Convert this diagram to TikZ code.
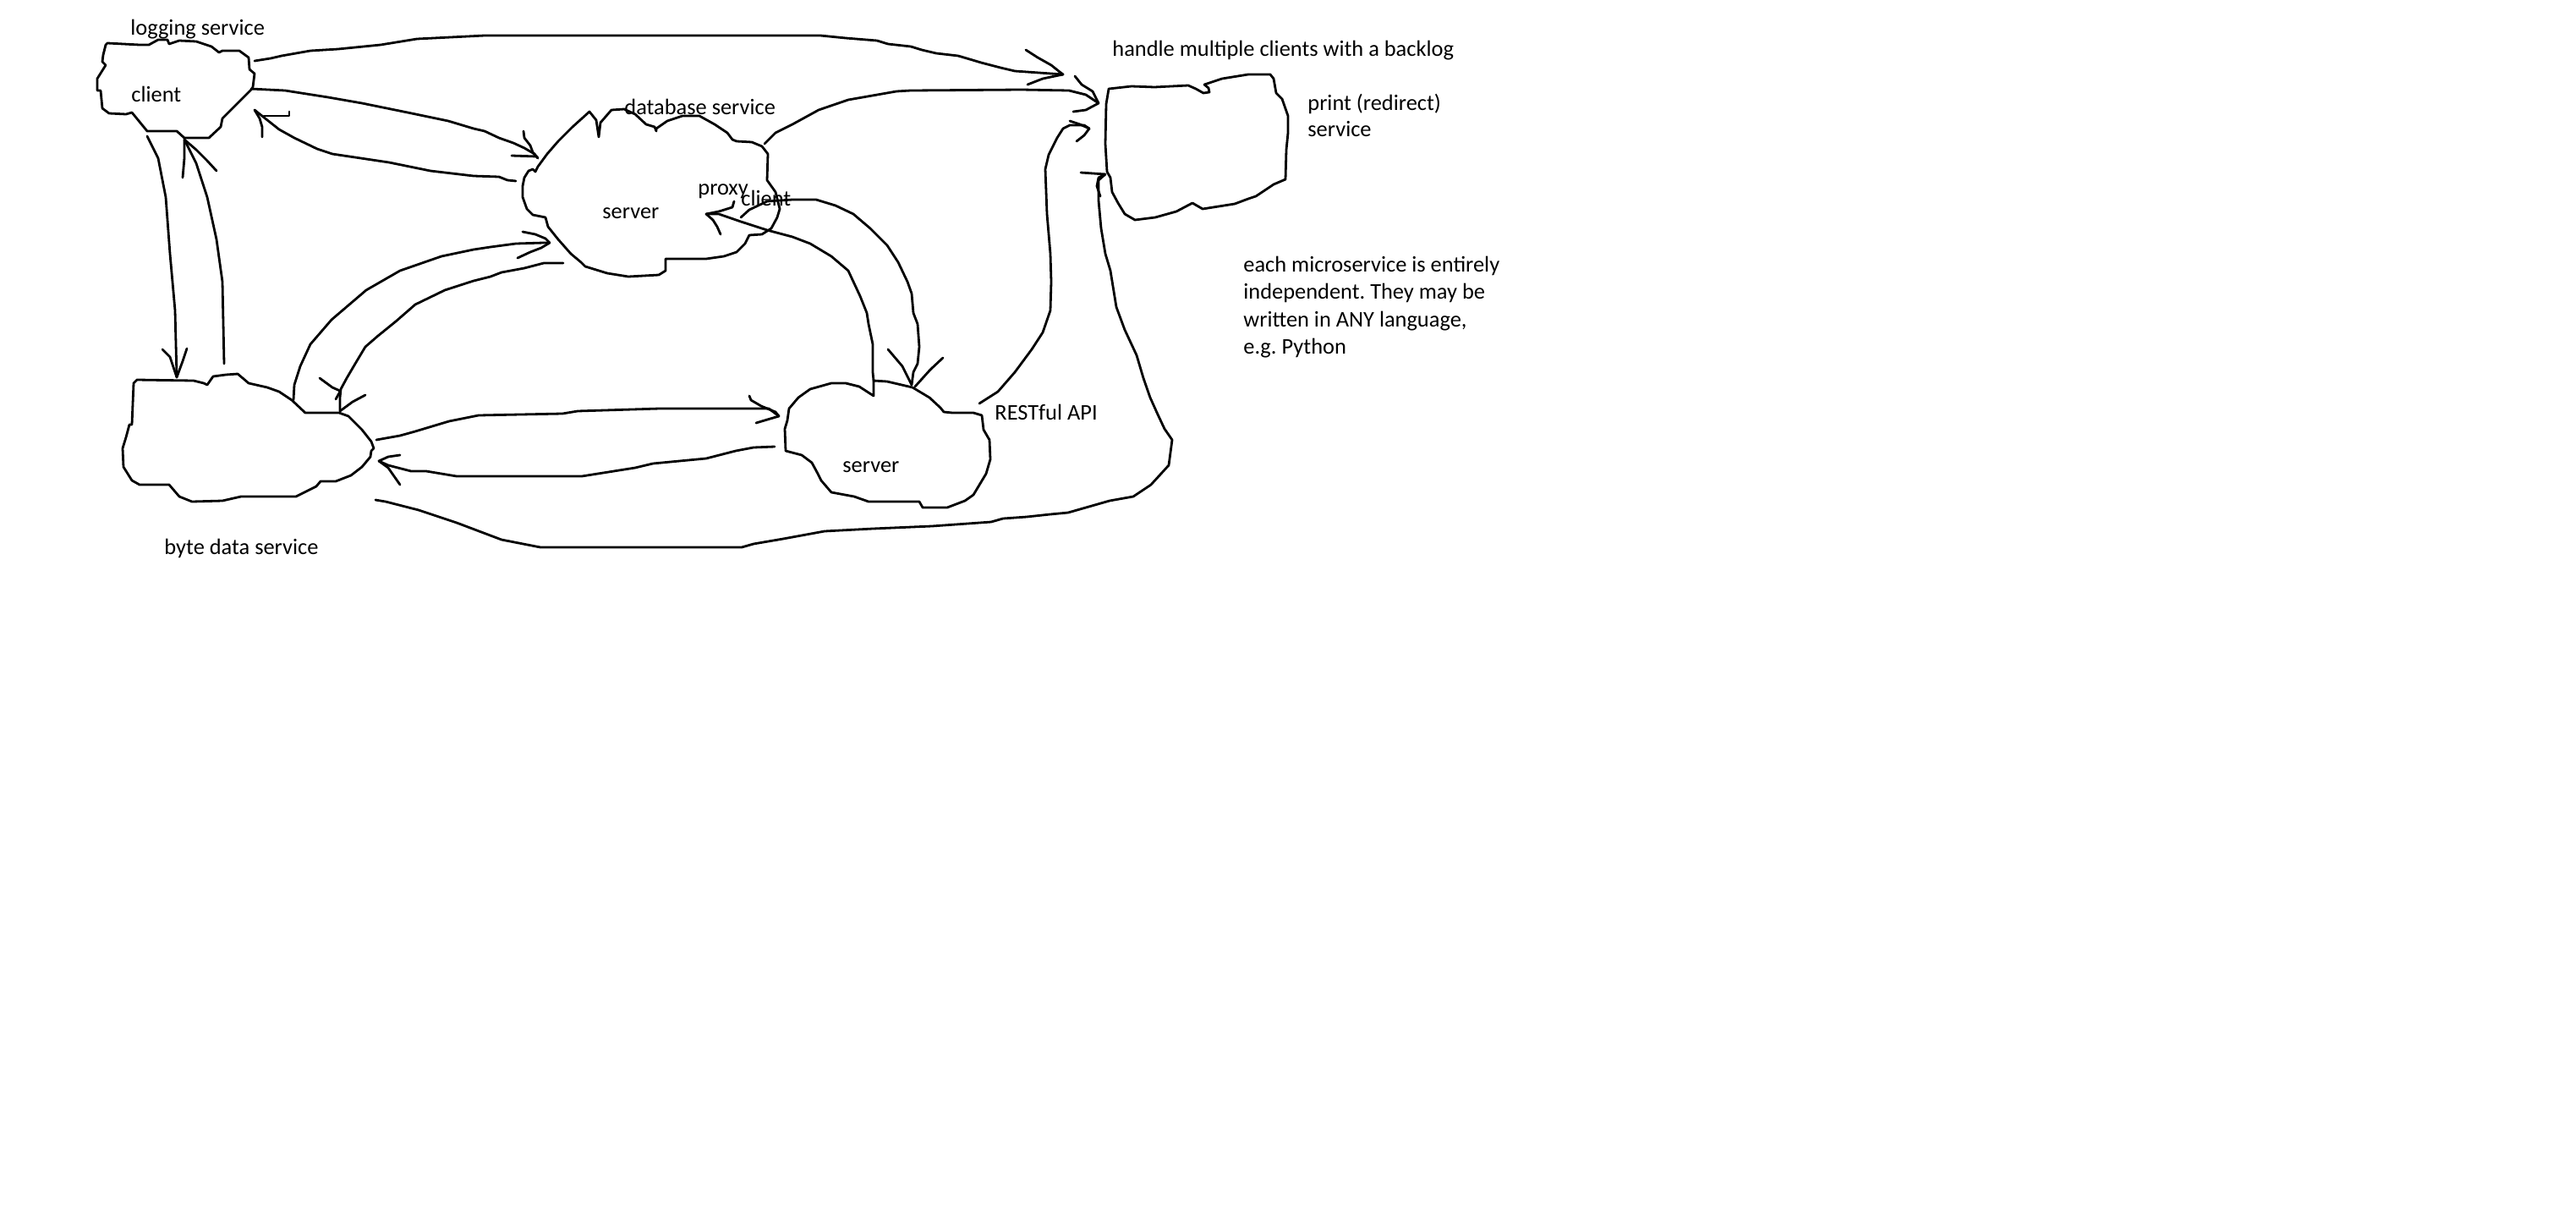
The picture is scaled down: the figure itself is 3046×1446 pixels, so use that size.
\documentclass[tikz,border=0pt]{standalone}
\usepackage{fontspec}
\setmainfont{Carlito}
\frenchspacing
\begin{document}
\begin{tikzpicture}[x=0.5pt,y=-0.5pt,
  pen/.style={line width=1.4pt, line join=round, line cap=round},
  label/.style={anchor=base west, inner sep=0pt, font=\fontsize{13.2}{16.2}\selectfont}]
\useasboundingbox (0,0) rectangle (3046,1446);
\fill[white] (0,0) rectangle (3046,1446);

% ---------- service clouds ----------
% logging service (client)
\draw[pen] (127,51) -- (165,53) -- (176,53) -- (187,47) -- (198,47) -- (200,52) -- (212,48)
  -- (232,49) -- (250,55) -- (259,62) -- (263,60) -- (283,60) -- (294,68) -- (295,82)
  -- (301,87) -- (299,103) -- (297,106) -- (263,140) -- (261,150) -- (247,163) -- (218,163)
  -- (209,155) -- (174,155) -- (156,133) -- (149,135) -- (129,134) -- (121,128) -- (119,107)
  -- (115,107) -- (115,93) -- (125,77) -- (121,73) -- (122,65) -- (125,53) -- cycle;
% database service (server + proxy client)
\draw[pen] (636,197) -- (647,182) -- (660,167) -- (677,150) -- (697,132) -- (705,142)
  -- (708,162) -- (710,145) -- (723,130) -- (738,129) -- (751,135) -- (764,147) -- (774,150)
  -- (776,155) -- (776,152) -- (789,143) -- (807,137) -- (827,137) -- (845,147) -- (860,157)
  -- (866,165) -- (871,167) -- (889,168) -- (901,173) -- (908,182) -- (907,213) -- (917,227)
  -- (922,247) -- (919,257) -- (912,270) -- (901,277) -- (886,278) -- (881,288) -- (871,298)
  -- (856,303) -- (835,306) -- (787,306) -- (787,320) -- (779,325) -- (743,327) -- (718,323)
  -- (692,315) -- (687,310) -- (675,300) -- (660,283) -- (648,268) -- (645,257) -- (630,254)
  -- (623,247) -- (618,233) -- (618,220) -- (620,210) -- (625,202) -- (630,200) -- (633,203)
  -- cycle;
% print (redirect) service
\draw[pen] (1311,105) -- (1338,102) -- (1365,103) -- (1405,101) -- (1414,105) -- (1423,110)
  -- (1430,109) -- (1429,104) -- (1424,100) -- (1445,93) -- (1476,88) -- (1502,88) -- (1506,93)
  -- (1509,110) -- (1516,117) -- (1523,137) -- (1523,157) -- (1521,177) -- (1520,212)
  -- (1506,218) -- (1485,232) -- (1476,235) -- (1460,241) -- (1422,247) -- (1410,240)
  -- (1391,250) -- (1366,257) -- (1342,260) -- (1330,253) -- (1322,240) -- (1315,227)
  -- (1313,210) -- (1309,203) -- (1307,170) -- (1308,123) -- cycle;
% byte data service
\draw[pen] (162,449) -- (229,450) -- (241,453) -- (245,455) -- (252,445) -- (267,443)
  -- (281,442) -- (287,447) -- (294,453) -- (316,458) -- (330,463) -- (345,473) -- (361,488)
  -- (401,488) -- (412,492) -- (428,508) -- (439,522) -- (442,530) -- (439,533) -- (438,540)
  -- (428,552) -- (415,562) -- (397,569) -- (379,569) -- (374,575) -- (350,587) -- (285,587)
  -- (263,592) -- (227,593) -- (212,587) -- (200,573) -- (165,573) -- (156,568) -- (146,552)
  -- (145,530) -- (149,517) -- (153,502) -- (156,502) -- (158,453) -- cycle;
% RESTful API server
\draw[pen] (1033,468) -- (1033,450) -- (1049,451) -- (1079,458) -- (1099,470) -- (1112,482)
  -- (1116,487) -- (1126,488) -- (1151,488) -- (1161,491) -- (1163,508) -- (1170,520)
  -- (1171,543) -- (1166,560) -- (1157,575) -- (1151,585) -- (1141,592) -- (1120,600)
  -- (1091,600) -- (1087,593) -- (1027,593) -- (1010,587) -- (983,582) -- (971,568)
  -- (967,560) -- (960,547) -- (948,538) -- (929,533) -- (928,507) -- (931,497) -- (933,483)
  -- (944,470) -- (958,460) -- (983,453) -- (1000,453) -- (1016,457) -- cycle;

% ---------- connector end points ----------
\coordinate (logR1) at (301,72);   \coordinate (logR2) at (297,105);
\coordinate (logR3) at (301,130);  \coordinate (logB1) at (174,161);
\coordinate (logB2) at (218,165);
\coordinate (dbL1) at (636,187);   \coordinate (dbL2) at (610,214);
\coordinate (dbL3) at (650,287);   \coordinate (dbL4) at (666,311);
\coordinate (dbTR) at (904,170);   \coordinate (pxIn) at (835,253);
\coordinate (pxOut) at (876,257);
\coordinate (prL1) at (1257,88);   \coordinate (prL2) at (1299,122);
\coordinate (prL3) at (1288,152);  \coordinate (prL4) at (1307,206);
\coordinate (byT1) at (209,446);   \coordinate (byT2) at (265,430);
\coordinate (byT3) at (347,473);   \coordinate (byT4) at (402,486);
\coordinate (byR1) at (445,520);   \coordinate (byR2) at (448,545);
\coordinate (byR3) at (444,591);
\coordinate (svL1) at (921,492);   \coordinate (svL2) at (916,528);
\coordinate (svT1) at (1033,450);  \coordinate (svT2) at (1078,455);
\coordinate (svRA) at (1158,477);

% ---------- connectors ----------
% logging -> print (top)
\draw[pen] (logR1) -- (320,69) -- (333,66) -- (367,60) -- (400,58) -- (450,53) -- (493,46)
  -- (573,42) -- (970,42) -- (1000,45) -- (1037,48) -- (1050,52) -- (1077,55) -- (1090,59)
  -- (1107,63) -- (1133,66) -- (1150,71) -- (1160,74) -- (1183,80) -- (1200,84) -- (prL1);
\draw[pen] (1213,59) -- (1227,68) -- (1243,77) -- (1253,85) -- (prL1);
\draw[pen] (1215,100) -- (1233,93) -- (prL1);

% logging -> database
\draw[pen] (logR2) -- (337,107) -- (388,115) -- (428,122) -- (482,133) -- (530,143)
  -- (560,152) -- (573,155) -- (590,163) -- (607,169) -- (620,175) -- (632,182) -- (dbL1);
\draw[pen] (619,155) -- (620,163) -- (627,172) -- (630,180) -- (dbL1);
\draw[pen] (605,184) -- (635,185);

% database -> logging
\draw[pen] (dbL2) -- (600,213) -- (590,209) -- (560,208) -- (509,202) -- (460,192)
  -- (393,182) -- (375,176) -- (348,163) -- (330,153) -- (logR3);
\draw[pen] (312,137) -- (342,137) -- (342,132);
\draw[pen] (logR3) -- (307,140) -- (310,150) -- (310,162);

% logging -> byte data
\draw[pen] (logB1) -- (187,187) -- (196,233) -- (201,300) -- (207,367) -- (byT1);
\draw[pen] (192,413) -- (201,422) -- (byT1);
\draw[pen] (221,412) -- (216,427) -- (byT1);

% byte data -> logging
\draw[pen] (byT2) -- (263,333) -- (256,283) -- (245,233) -- (232,193) -- (logB2);
\draw[pen] (216,210) -- (218,187) -- (logB2);
\draw[pen] (256,202) -- (245,190) -- (232,177) -- (logB2);

% byte data -> database (outer arc)
\draw[pen] (byT3) -- (348,455) -- (355,433) -- (367,407) -- (392,378) -- (433,343)
  -- (473,320) -- (522,303) -- (560,295) -- (580,292) -- (610,288) -- (643,287) -- (dbL3);
\draw[pen] (618,274) -- (633,277) -- (645,282) -- (dbL3);
\draw[pen] (612,305) -- (627,298) -- (640,293) -- (dbL3);

% database -> byte data (inner arc)
\draw[pen] (dbL4) -- (643,311) -- (620,317) -- (593,322) -- (580,327) -- (560,332)
  -- (526,343) -- (491,360) -- (468,380) -- (447,397) -- (432,410) -- (420,430) -- (410,447)
  -- (403,460) -- (402,470) -- (byT4);
\draw[pen] (378,447) -- (393,458) -- (402,462);
\draw[pen] (402,463) -- (397,472);
\draw[pen] (432,467) -- (417,475) -- (byT4);

% byte data -> RESTful server
\draw[pen] (byR1) -- (473,515) -- (491,510) -- (531,498) -- (566,491) -- (665,489)
  -- (683,486) -- (780,483) -- (909,483) -- (svL1);
\draw[pen] (886,468) -- (888,473) -- (900,480) -- (917,487) -- (svL1);
\draw[pen] (894,500) -- (904,497) -- (svL1);

% RESTful server -> byte data
\draw[pen] (svL2) -- (891,529) -- (870,533) -- (835,542) -- (772,548) -- (751,553)
  -- (688,563) -- (540,563) -- (504,557) -- (486,557) -- (459,550) -- (byR2);
\draw[pen] (473,538) -- (459,540) -- (byR2);
\draw[pen] (byR2) -- (459,553) -- (466,563) -- (473,573);

% RESTful server -> proxy
\draw[pen] (svT1) -- (1032,440) -- (1032,407) -- (1027,383) -- (1025,370) -- (1017,350)
  -- (1003,320) -- (983,303) -- (958,288) -- (937,280) -- (907,272) -- (876,262) -- (850,253)
  -- (pxIn);
\draw[pen] (868,238) -- (866,245) -- (850,250) -- (pxIn);
\draw[pen] (pxIn) -- (843,260) -- (848,268) -- (852,277);

% proxy client -> RESTful server
\draw[pen] (pxOut) -- (886,248) -- (907,238) -- (937,236) -- (965,236) -- (988,243)
  -- (1009,253) -- (1029,270) -- (1049,290) -- (1062,310) -- (1073,333) -- (1078,347)
  -- (1080,370) -- (1085,383) -- (1087,410) -- (1085,430) -- (1080,440) -- (svT2);
\draw[pen] (1050,413) -- (1067,433) -- (svT2);
\draw[pen] (1115,423) -- (1100,437) -- (1082,457);

% RESTful API -> print
\draw[pen] (svRA) -- (1180,463) -- (1200,440) -- (1220,413) -- (1233,393) -- (1242,367)
  -- (1243,333) -- (1242,300) -- (1238,253) -- (1236,200) -- (1240,183) -- (1250,163)
  -- (1257,152) -- (1265,148) -- (1282,148) -- (prL3);
\draw[pen] (1265,143) -- (1277,147) -- (prL3);
\draw[pen] (1273,167) -- (1282,160) -- (prL3);

% database -> print
\draw[pen] (dbTR) -- (917,157) -- (937,147) -- (968,130) -- (1003,118) -- (1060,108)
  -- (1077,107) -- (1208,106) -- (1264,107) -- (1284,112) -- (prL2);
\draw[pen] (1271,90) -- (1279,100) -- (1292,108) -- (prL2);
\draw[pen] (1269,132) -- (1284,130) -- (prL2);

% byte data -> print (bottom loop)
\draw[pen] (byR3) -- (456,593) -- (495,603) -- (540,618) -- (593,638) -- (639,647)
  -- (877,647) -- (891,643) -- (926,637) -- (975,628) -- (1032,625) -- (1102,622)
  -- (1172,617) -- (1186,613) -- (1214,611) -- (1242,608) -- (1263,606) -- (1312,592)
  -- (1340,587) -- (1361,573) -- (1382,550) -- (1386,520) -- (1377,507) -- (1369,490)
  -- (1360,470) -- (1352,447) -- (1344,420) -- (1330,390) -- (1320,363) -- (1313,320)
  -- (1307,300) -- (1302,270) -- (1299,237) -- (1299,213) -- (prL4);
\draw[pen] (1278,204) -- (prL4);
\draw[pen] (prL4) -- (1299,210) -- (1297,220) -- (1301,232);

% ---------- labels ----------
\node[label] (tLog)   at (154,41)   {logging service};
\node[label] (tLogC)  at (155,120)  {client};
\node[label] (tDb)    at (738,135)  {database service};
\node[label] (tDbS)   at (712,258)  {server};
\node[label] (tProxy) at (825,230)  {proxy};
\node[label] (tPxC)   at (876,243)  {client};
\node[label] (tBack)  at (1315,66)  {handle multiple clients with a backlog};
\node[label] (tPr1)   at (1546,130) {print (redirect)};
\node[label] (tPr2)   at (1546,161) {service};
\node[label] (tN1)    at (1470,321) {each microservice is entirely};
\node[label] (tN2)    at (1470,353) {independent. They may be};
\node[label] (tN3)    at (1470,386) {written in ANY language,};
\node[label] (tN4)    at (1470,418) {e.g. Python};
\node[label] (tRest)  at (1176,496) {RESTful API};
\node[label] (tSrv)   at (996,558)  {server};
\node[label] (tByte)  at (194,655)  {byte data service};
\end{tikzpicture}
\end{document}
